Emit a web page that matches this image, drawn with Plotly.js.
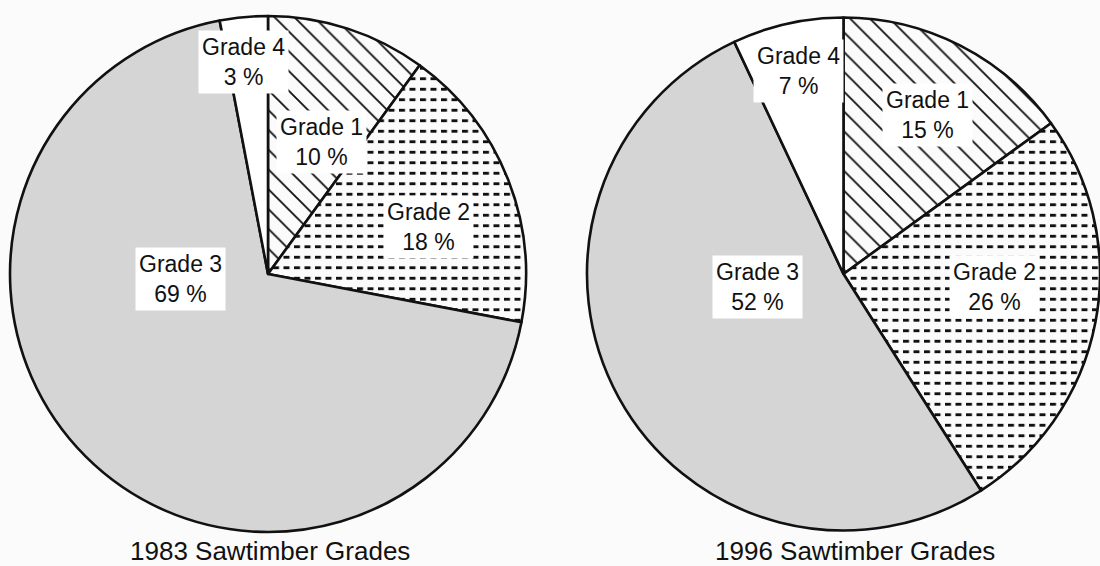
<!DOCTYPE html>
<html>
<head>
<meta charset="utf-8">
<script src="https://cdn.plot.ly/plotly-3.0.1.min.js"></script>
<style>
  html, body { margin: 0; padding: 0; background: #fbfbfb; overflow: hidden; }
  #chart { width: 1100px; height: 566px; }
</style>
</head>
<body>
<div id="chart"></div>
<script>
// ---- data ----
const grades = ["Grade 1", "Grade 2", "Grade 3", "Grade 4"];
const values1983 = [10, 18, 69, 3];
const values1996 = [15, 26, 52, 7];
const chartTitles = ["1983 Sawtimber Grades", "1996 Sawtimber Grades"];

// ---- layout config (pixel anchors for label boxes) ----
const W = 1100, H = 566;
const labelPos1983 = [[321, 142], [428, 227], [180, 279], [243, 62]];
const labelPos1996 = [[927, 115], [994, 287], [757, 287], [798, 71]];
const titlePos = [[270, 551], [855, 551]];

const FONT = "Liberation Sans, Arial, Helvetica, sans-serif";

function pieTrace(values, domain) {
  return {
    type: "pie",
    labels: grades,
    values: values,
    sort: false,
    direction: "clockwise",
    rotation: 0,
    textinfo: "none",
    hoverinfo: "none",
    showlegend: false,
    domain: domain,
    marker: {
      colors: ["#ffffff", "#ffffff", "#d5d5d5", "#ffffff"],
      line: { color: "#111111", width: 2.6 },
      pattern: {
        shape: ["\\", "-", "", ""],
        fgcolor: "#111111",
        size: [14, 10.5, 8, 8],
        solidity: [0.13, 0.27, 0.3, 0.3],
        fillmode: "replace"
      }
    }
  };
}

const px = x => x / W;
const py = y => 1 - y / H;

const annotations = [];
function addLabels(values, pos) {
  grades.forEach((g, i) => {
    annotations.push({
      xref: "paper", yref: "paper",
      x: px(pos[i][0]), y: py(pos[i][1]),
      xanchor: "center", yanchor: "middle",
      text: g + "<br>" + values[i] + " %",
      showarrow: false,
      bgcolor: "#ffffff",
      borderpad: 3,
      font: { family: FONT, size: 23, color: "#111111" }
    });
  });
}
addLabels(values1983, labelPos1983);
addLabels(values1996, labelPos1996);
chartTitles.forEach((t, i) => {
  annotations.push({
    xref: "paper", yref: "paper",
    x: px(titlePos[i][0]), y: py(titlePos[i][1]),
    xanchor: "center", yanchor: "middle",
    text: t, showarrow: false,
    font: { family: FONT, size: 26, color: "#111111" }
  });
});

const data = [
  pieTrace(values1983, { x: [10 / W, 526 / W], y: [34 / H, 550 / H] }),
  pieTrace(values1996, { x: [587 / W, 1], y: [34 / H, 550 / H] })
];

const layout = {
  width: W, height: H,
  margin: { l: 0, r: 0, t: 0, b: 0 },
  paper_bgcolor: "#fbfbfb",
  plot_bgcolor: "#fbfbfb",
  showlegend: false,
  annotations: annotations
};

Plotly.newPlot("chart", data, layout, { displayModeBar: false, staticPlot: true }).then(() => {
  // turn the horizontal-line fill into dashed lines, as in the original
  document.querySelectorAll("pattern path").forEach(p => {
    const d = p.getAttribute("d") || "";
    if ((d.match(/M/g) || []).length === 1 && /^M0,/.test(d)) {
      p.setAttribute("stroke-dasharray", "6,4.5");
    }
  });
});
</script>
</body>
</html>
